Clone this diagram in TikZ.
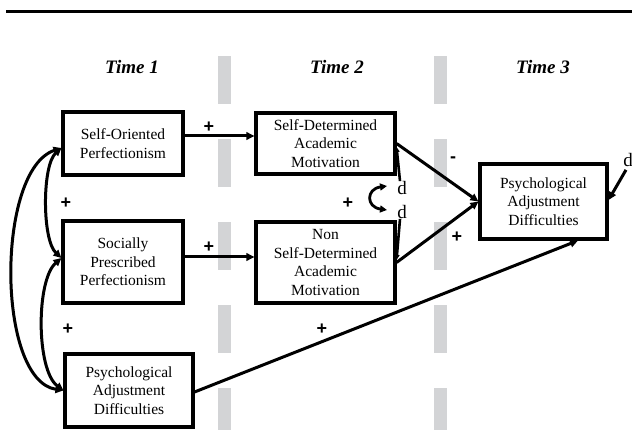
\documentclass[tikz,border=0pt]{standalone}
\usepackage{fontspec}
\setmainfont{Liberation Serif}
\newfontfamily\signfont{Liberation Sans}
\usetikzlibrary{arrows.meta}
\definecolor{barg}{RGB}{211,212,214}
\begin{document}
\begin{tikzpicture}[x=1pt,y=-1pt,
  box/.style={draw, line width=3.1pt, align=center, inner sep=0pt,
    font=\fontsize{15.5}{18.5}\selectfont},
  arr/.style={line width=3pt, -{Triangle[length=8pt,width=7.5pt]}},
  darr/.style={line width=3pt, {Triangle[length=8pt,width=7.5pt]}-{Triangle[length=8pt,width=7.5pt]}},
  sign/.style={font=\signfont\bfseries\fontsize{18}{18}\selectfont, inner sep=0pt},
  dlab/.style={font=\fontsize{19}{19}\selectfont, inner sep=0pt},
  timelab/.style={font=\bfseries\itshape\fontsize{19}{19}\selectfont, inner sep=0pt}]
\useasboundingbox (0,0) rectangle (632,430);
% top rule
\draw[line width=3pt] (6,12) -- (632,12);
% gray dashed separators
\foreach \x in {217.5,434}{
  \foreach \y in {56,139,222,305,388}{
    \fill[barg] (\x,\y) rectangle ++(13,48);
  }
}
% time labels
\node[timelab] (t1) at (132,67) {Time 1};
\node[timelab] (t2) at (337,67) {Time 2};
\node[timelab] (t3) at (543,67) {Time 3};
% boxes
\node[box, minimum width=120, minimum height=63] (SOP) at (123,143.5) {Self-Oriented\\Perfectionism};
\node[box, minimum width=120, minimum height=82] (SPP) at (123,262) {Socially\\Prescribed\\Perfectionism};
\node[box, minimum width=128, minimum height=73] (PAD1) at (129,390.5) {Psychological\\Adjustment\\Difficulties};
\node[box, minimum width=139, minimum height=61] (SDAM) at (325.5,143.5) {Self-Determined\\Academic\\Motivation};
\node[box, minimum width=139, minimum height=81] (NSDAM) at (325.5,262.5) {Non\\Self-Determined\\Academic\\Motivation};
\node[box, minimum width=127, minimum height=75] (PAD3) at (543.5,201.5) {Psychological\\Adjustment\\Difficulties};
% signs
\node[sign] (s1) at (209,127) {+};
\node[sign] (s2) at (209,247) {+};
\node[sign] (s3) at (66,203) {+};
\node[sign] (s4) at (68,329) {+};
\node[sign] (s5) at (322,329) {+};
\node[sign] (s6) at (348,203) {+};
\node[sign] (s7) at (453,160) {-};
\node[sign] (s8) at (457,237) {+};
% d labels
\node[dlab] (dA) at (402,188) {d};
\node[dlab] (dB) at (402,212) {d};
\node[dlab] (dC) at (628,160) {d};
% paths
\draw[arr] ([yshift=7.5pt]SOP.east) -- ([yshift=7.5pt]SDAM.west);
\draw[arr] ([yshift=5pt]SPP.east) -- ([yshift=5.5pt]NSDAM.west);
\draw[arr] (SDAM.east) -- (PAD3.west);
\draw[arr] (NSDAM.east) -- (PAD3.west);
\draw[arr] ([yshift=-1.5pt]PAD1.east) -- ([xshift=34.5pt]PAD3.south);
% disturbances
\draw[line width=2.6pt, -{Triangle[length=5pt,width=5pt]}] ([xshift=-2pt]dA.north) -- ([yshift=-3.5pt]SDAM.east);
\draw[line width=2.6pt, -{Triangle[length=5pt,width=5pt]}] ([xshift=-2pt]dB.south) -- ([yshift=2.5pt]NSDAM.east);
\draw[arr] ([shift={(-2pt,-3pt)}]dC.south) -- ([yshift=1.5pt]PAD3.east);
\coordinate (cA) at (387,186);
\coordinate (cB) at (387,210);
\draw[line width=2.8pt, {Triangle[length=7pt,width=7pt]}-{Triangle[length=7pt,width=7pt]}] (cA) .. controls (366,189) and (366,207) .. (cB);
% correlations on the left
\coordinate (TL) at ([yshift=-4.5pt]SOP.west);
\coordinate (ML) at ([yshift=4pt]SPP.west);
\coordinate (BL) at (PAD1.west);
\draw[darr] (TL) .. controls (42,165) and (42,240) .. (ML);
\draw[darr] (ML) .. controls (36,280) and (36,370) .. (BL);
\draw[darr] (TL) .. controls (-4,170) and (-4,380) .. (BL);
\end{tikzpicture}
\end{document}
